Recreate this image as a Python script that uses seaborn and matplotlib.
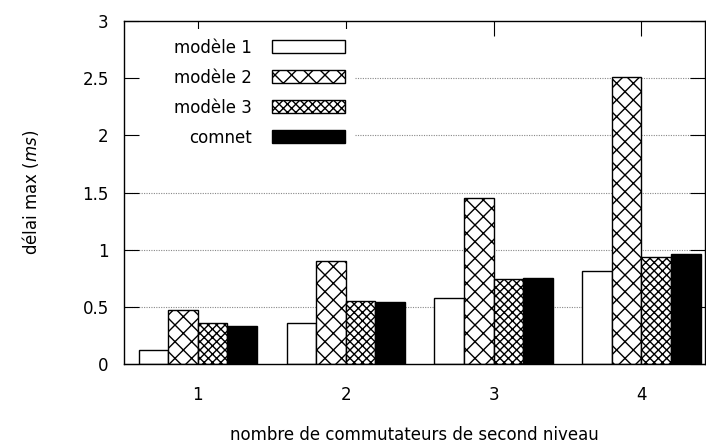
import matplotlib
matplotlib.use("Agg")
import matplotlib.pyplot as plt
import seaborn as sns
import pandas as pd

categories = ["1", "2", "3", "4"]
models = ["modèle 1", "modèle 2", "modèle 3", "comnet"]
modele1 = [0.12, 0.36, 0.58, 0.81]
modele2 = [0.47, 0.90, 1.45, 2.51]
modele3 = [0.36, 0.55, 0.74, 0.94]
comnet = [0.33, 0.54, 0.75, 0.96]
yticks = [0, 0.5, 1, 1.5, 2, 2.5, 3]
ytick_labels = ["0", "0.5", "1", "1.5", "2", "2.5", "3"]

series = [modele1, modele2, modele3, comnet]
rows = []
for m, vals in zip(models, series):
    for c, v in zip(categories, vals):
        rows.append({"n": c, "delay": v, "model": m})
df = pd.DataFrame(rows)

sns.set_theme(style="white")
plt.rcParams["font.family"] = ["DejaVu Sans"]
plt.rcParams["hatch.linewidth"] = 1.0
plt.rcParams["hatch.color"] = "black"
plt.rcParams["text.color"] = "black"
plt.rcParams["axes.labelcolor"] = "black"
plt.rcParams["xtick.color"] = "black"
plt.rcParams["ytick.color"] = "black"

fig = plt.figure(figsize=(7.06, 4.46), dpi=100)
ax = fig.add_axes([124 / 706, 1 - 364 / 446, (705 - 124) / 706, (364 - 21) / 446])

palette = ["white", "white", "white", "black"]
hatches = ["", "xx", "xxxx", ""]
sns.barplot(data=df, x="n", y="delay", hue="model", order=categories,
            hue_order=models, palette=palette, edgecolor="black",
            linewidth=1.0, width=0.8, ax=ax, legend=False, saturation=1)

for cont, h in zip(ax.containers, hatches):
    for p in cont:
        p.set_hatch(h)
        p.set_edgecolor("black")

ax.set_xlim(-0.5, 3.43)
ax.set_ylim(0, 3)
ax.set_yticks(yticks)
ax.set_yticklabels(ytick_labels)
ax.set_xticks(range(len(categories)))
ax.set_xticklabels(categories)

for s in ax.spines.values():
    s.set_visible(True)
    s.set_color("black")
    s.set_linewidth(1.0)

ax.set_axisbelow(False)
ax.grid(False)
ax.tick_params(axis="y", direction="in", left=True, right=True, length=11,
               width=0.8, color="black", labelcolor="black", labelsize=12, pad=11)
ax.tick_params(axis="x", direction="in", bottom=True, top=True, length=11,
               width=0.8, color="black", labelcolor="black", labelsize=12, pad=16)

ax.set_ylabel("délai max ($ms$)", fontsize=12, labelpad=30, color="black")
ax.set_xlabel("nombre de commutateurs de second niveau", fontsize=12,
              labelpad=16, color="black")

handles = [c[0] for c in ax.containers]
leg = ax.legend(handles, models, loc="upper right",
                bbox_to_anchor=(0.3976, 0.978), markerfirst=False,
                fontsize=12, handlelength=4.4, handleheight=0.84,
                handletextpad=1.2, labelspacing=0.72, borderpad=0.6,
                borderaxespad=0, frameon=True, fancybox=False,
                framealpha=1)
leg.get_frame().set_edgecolor("none")
leg.get_frame().set_facecolor("white")
for t in leg.get_texts():
    t.set_color("black")

# gnuplot-style dotted grid, interrupted by the opaque key area
fig.canvas.draw()
bb = leg.get_window_extent().transformed(ax.transAxes.inverted())
ylo, yhi = ax.get_ylim()
for yt in yticks:
    if yt <= ylo or yt >= yhi:
        continue
    yfrac = (yt - ylo) / (yhi - ylo)
    x0 = bb.x1 if bb.y0 <= yfrac <= bb.y1 else 0
    ax.hlines(yt, x0, 1, transform=ax.get_yaxis_transform(),
              colors="#888888", linestyles=(0, (1, 1.2)), linewidth=0.8,
              zorder=0.5)

fig.savefig("out.png", dpi=100)
